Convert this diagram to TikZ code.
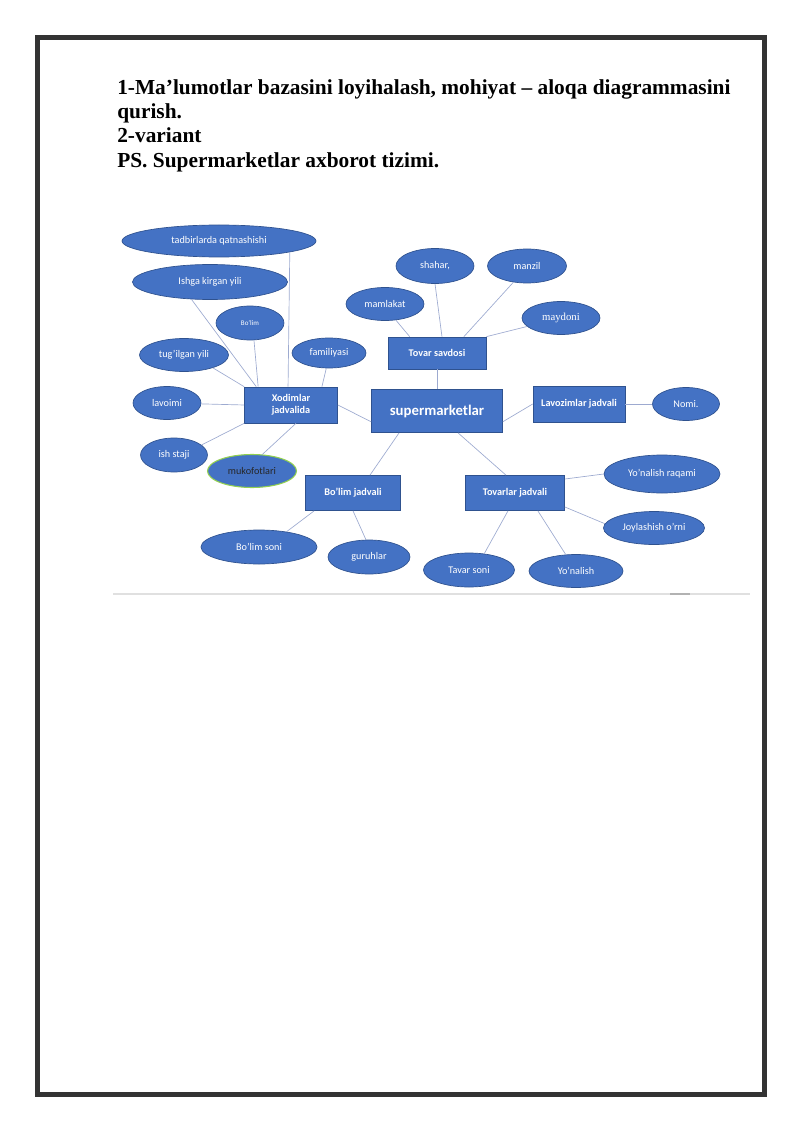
\documentclass[tikz,border=0pt]{standalone}
\usepackage{fontspec}
\setmainfont{Liberation Serif}
\newfontfamily\calib{Carlito}
\usetikzlibrary{shapes.geometric}
\definecolor{boxblue}{HTML}{4472C4}
\definecolor{boxline}{HTML}{2F528F}
\definecolor{linkgray}{HTML}{9DAAD0}
\definecolor{mukgreen}{HTML}{92D050}

\begin{document}
\begin{tikzpicture}[x=0.744pt,y=-0.744pt,
    attr/.style={ellipse,draw=boxline,fill=boxblue,text=white,inner sep=0pt,line width=0.5pt,
                 font=\calib\fontsize{7.6}{9}\selectfont},
    ent/.style={rectangle,draw=boxline,fill=boxblue,text=white,inner sep=0pt,line width=0.5pt,
                align=center,font=\calib\bfseries\fontsize{7.6}{9.2}\selectfont},
    dims/.style 2 args={minimum width=#1*0.744pt,minimum height=#2*0.744pt},
    link/.style={draw=linkgray,line width=0.5pt}]

  \useasboundingbox (0,0) rectangle (800,1131);
  \draw[line width=3.7pt,black!80] (37.5,37.5) rectangle (764.5,1094.5);

  % title
  \begin{scope}[every node/.style={anchor=base west,inner sep=0pt,font=\bfseries\fontsize{15.9}{19}\selectfont}]
    \node (t1) at (117,95) {1-Ma’lumotlar bazasini loyihalash, mohiyat – aloqa diagrammasini};
    \node (t2) at (117,119) {qurish.};
    \node (t3) at (117,143) {2-variant};
    \node (t4) at (117,168) {PS. Supermarketlar axborot tizimi.};
  \end{scope}

  % entities
  \node[ent,dims={131}{43},font=\calib\bfseries\fontsize{11}{13}\selectfont] (super) at (437,411) {supermarketlar};
  \node[ent,dims={93}{36}] (xod) at (291,405) {Xodimlar\\jadvalida};
  \node[ent,dims={98}{32}] (tovs) at (437,353) {Tovar savdosi};
  \node[ent,dims={92}{36}] (laz) at (579,404) {Lavozimlar jadvali};
  \node[ent,dims={95}{35}] (bolj) at (353,493) {Bo’lim jadvali};
  \node[ent,dims={99}{35}] (tovj) at (515,493) {Tovarlar jadvali};

  % attributes
  \node[attr,dims={194}{32}] (tad) at (219,241) {tadbirlarda qatnashishi};
  \node[attr,dims={155}{35}] (ishga) at (210,282) {Ishga kirgan yili};
  \node[attr,dims={68}{34},font=\calib\fontsize{5.2}{6}\selectfont] (bolim) at (250,323) {Bo’lim};
  \node[attr,dims={89}{33}] (tug) at (184,355) {tug’ilgan yili};
  \node[attr,dims={74}{30}] (fam) at (329,353) {familiyasi};
  \node[attr,dims={68}{33}] (lav) at (167,403) {lavoimi};
  \node[attr,dims={67}{34}] (staj) at (174,455) {ish staji};
  \node[attr,dims={89}{33},draw=mukgreen,line width=0.8pt,text=black!85] (muk) at (252,471) {mukofotlari};
  \node[attr,dims={78}{33}] (mam) at (385,304) {mamlakat};
  \node[attr,dims={78}{35}] (shah) at (435,266) {shahar,};
  \node[attr,dims={79}{34}] (manz) at (527,266) {manzil};
  \node[attr,dims={78}{33},font=\fontsize{8}{9}\selectfont] (mayd) at (561,318) {maydoni};
  \node[attr,dims={67}{33}] (nomi) at (686,404) {Nomi.};
  \node[attr,dims={116}{38}] (yraq) at (662,474) {Yo’nalish raqami};
  \node[attr,dims={101}{33}] (joy) at (654,528) {Joylashish o’rni};
  \node[attr,dims={116}{34}] (bsoni) at (259,547) {Bo’lim soni};
  \node[attr,dims={82}{34}] (gur) at (369,557) {guruhlar};
  \node[attr,dims={91}{34}] (tsoni) at (469,570) {Tavar soni};
  \node[attr,dims={94}{33}] (yon) at (576,571) {Yo’nalish};

  % links
  \path[link]
    (tad.-9) edge ([xshift=-2.2pt]xod.north)
    (ishga.-137) edge ([xshift=9pt]xod.north west)
    (bolim.-77) edge ([xshift=10.4pt]xod.north west)
    (tug.-24) edge (xod.north west)
    (fam.-100) edge ([xshift=23pt]xod.north)
    (lav) edge (xod.west)
    (staj.20) edge (xod.south west)
    (muk.58) edge ([xshift=3.7pt]xod.south)
    (xod.east) edge ([yshift=-8pt]super.west)
    (super) edge (tovs)
    (mam.-56) edge ([xshift=16.4pt]tovs.north west)
    (shah.-90) edge ([xshift=3.7pt]tovs.north)
    (manz.-130) edge ([xshift=20pt]tovs.north)
    (mayd.-166) edge (tovs.north east)
    ([yshift=-8pt]super.east) edge (laz.west)
    (laz) edge (nomi)
    ([xshift=20.8pt]super.south west) edge ([xshift=12.6pt]bolj.north)
    ([xshift=15.6pt]super.south) edge ([xshift=-6.7pt]tovj.north)
    ([yshift=10.4pt]tovj.east) edge (yraq.west)
    ([yshift=-10.4pt]tovj.east) edge (joy.175)
    ([xshift=-5.2pt]tovj.south) edge (tsoni.47)
    ([xshift=17pt]tovj.south) edge (yon.122)
    ([xshift=6.7pt]bolj.south west) edge (bsoni.29)
    (bolj.south) edge (gur.100);

  % page rule under the figure
  \draw[black!12,line width=1.1pt] (113,594) -- (750,594);
  \draw[black!30,line width=1.6pt] (670,594) -- (690,594);
\end{tikzpicture}
\end{document}
